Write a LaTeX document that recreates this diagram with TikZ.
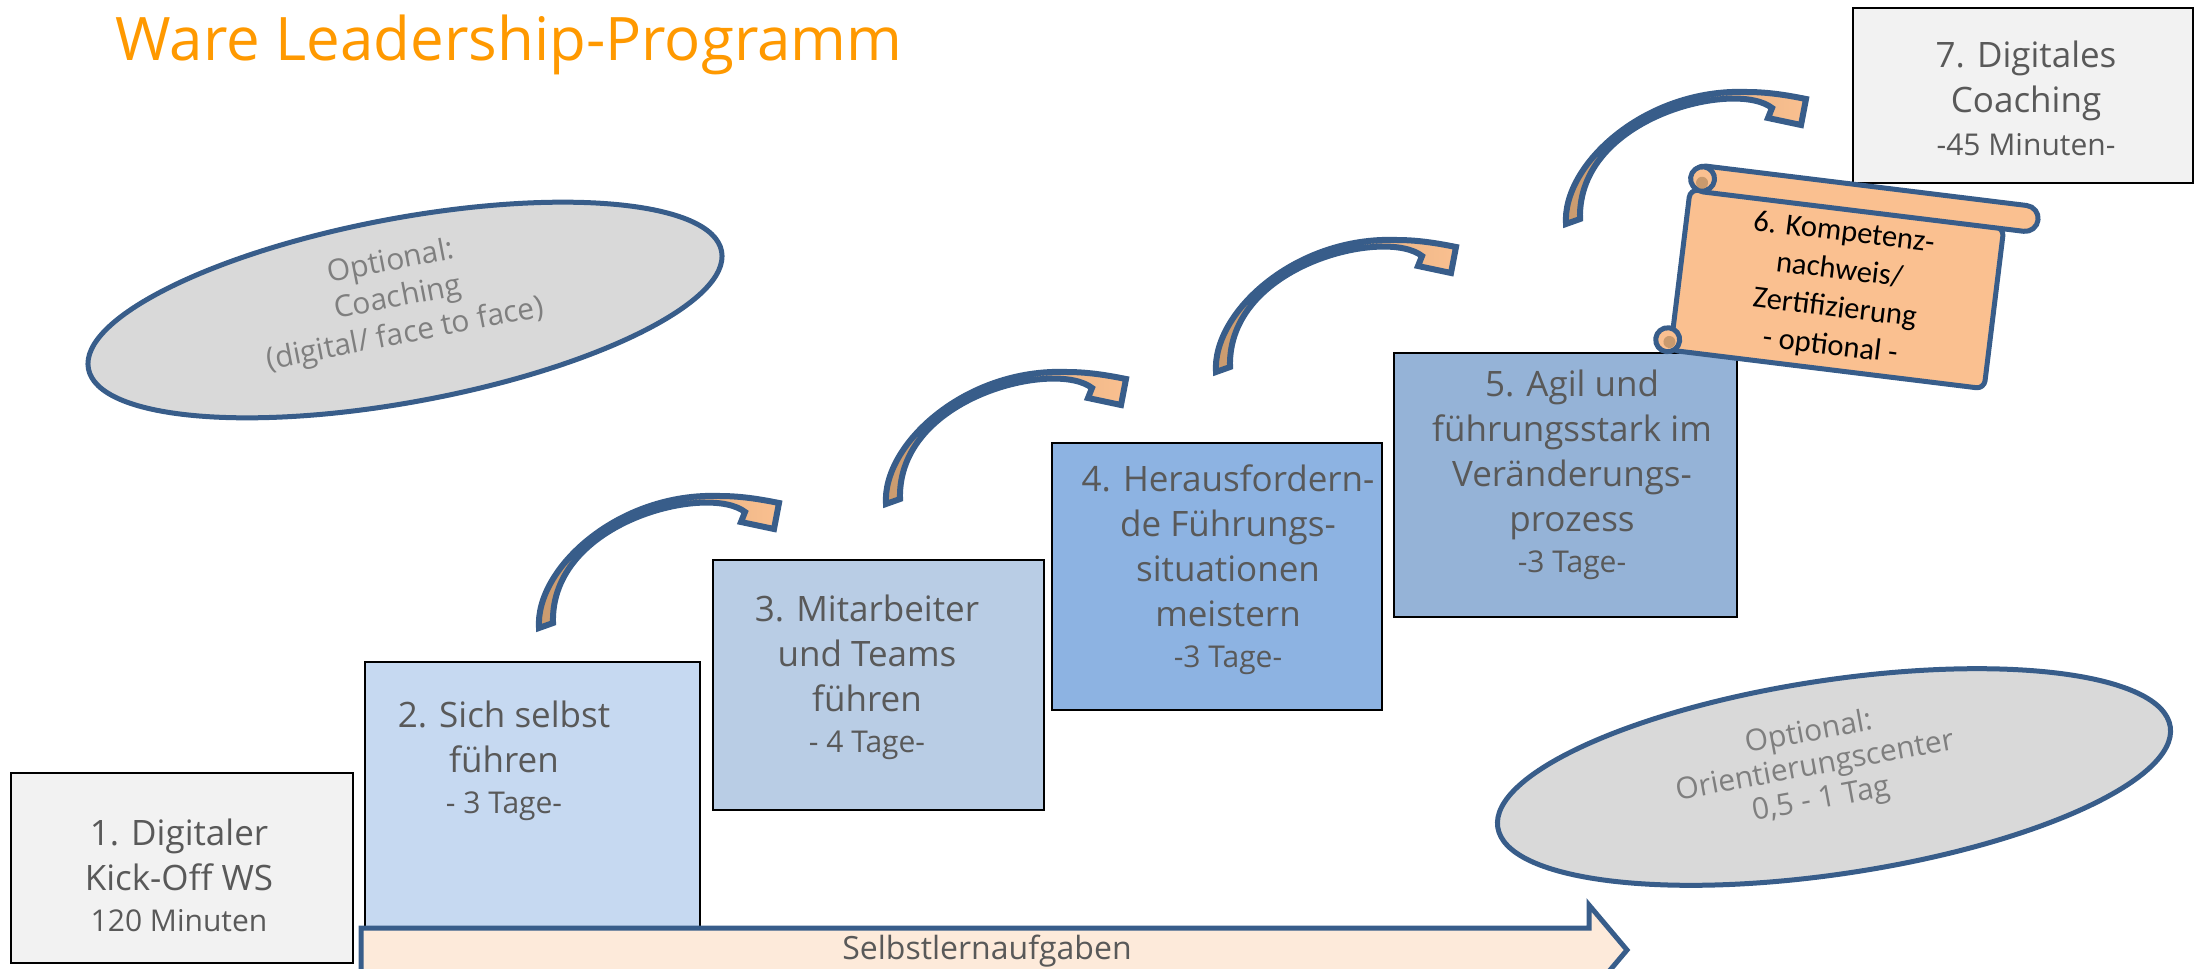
\documentclass[tikz,border=0pt]{standalone}
\usepackage{fontspec}
\setmainfont{Open Sans}
\newfontfamily\calfont{Carlito}
\usetikzlibrary{shapes.geometric}

\definecolor{titelorange}{HTML}{FF9900}
\definecolor{textgrau}{HTML}{595959}
\definecolor{hellgrau}{HTML}{7F7F7F}
\definecolor{kastengrau}{HTML}{F2F2F2}
\definecolor{blaueins}{HTML}{C6D9F1}
\definecolor{blauzwei}{HTML}{B9CDE5}
\definecolor{blaudrei}{HTML}{8DB3E2}
\definecolor{blauvier}{HTML}{95B3D7}
\definecolor{rand}{HTML}{385D8A}
\definecolor{wolkengrau}{HTML}{D9D9D9}
\definecolor{pfirsich}{HTML}{FDEADA}
\definecolor{rolle}{HTML}{FAC090}
\definecolor{braun}{HTML}{C99A6E}

\newcommand{\dauer}{\fontsize{15}{18}\selectfont}

\begin{document}
\begin{tikzpicture}[x=0.5pt,y=-0.5pt,
	kasten/.style={draw=black,line width=1.4pt,rectangle,inner sep=0pt},
	kastentext/.style={text=textgrau,align=center,font=\fontsize{17.5}{22.5}\selectfont},
	wolke/.style={ellipse,draw=rand,fill=wolkengrau,line width=2.5pt},
	wolkentext/.style={text=hellgrau,align=center,font=\fontsize{15}{18.5}\selectfont},
	rollrand/.style={draw=rand,fill=rolle,line width=2.5pt,line join=round},
	pfeil/.style={draw=rand,line width=3pt,left color=braun,right color=rolle,line join=miter},
	bogen/.pic={
		\path[pfeil] (1,-1) .. controls (-3,-60) and (80,-137) .. (182,-133)
			.. controls (205,-133) and (226,-129) .. (241,-126) -- (236,-100) -- (203,-107) -- (207,-117)
			.. controls (170,-146) and (12,-108) .. (15,-6) -- cycle;}]

	\useasboundingbox (0,0) rectangle (2195,969);
	\clip (0,0) rectangle (2195,969);

	\node[anchor=base west,inner sep=0pt,text=titelorange,font=\fontsize{30}{36}\selectfont] (titel) at (115,61) {Ware Leadership-Programm};

	% optionale Angebote
	\node[wolke,rotate=10.5,minimum width=322pt,minimum height=92pt] (coaching) at (405,310) {};
	\node[wolkentext,rotate=11] (coachingtext) at (398,299) {Optional:\\Coaching\\(digital/ face to face)};
	\node[wolke,rotate=8.5,minimum width=340pt,minimum height=97pt] (orient) at (1834,777) {};
	\node[wolkentext,rotate=10.5,font=\fontsize{15}{17}\selectfont] (orienttext) at (1815,767) {Optional:\\Orientierungscenter\\0,5 - 1 Tag};

	% Stufen
	\node[kasten,fill=kastengrau,minimum width=171pt,minimum height=95pt] (k1) at (182,868) {};
	\node[kasten,fill=blaueins,minimum width=167.5pt,minimum height=132.5pt] (k2) at (532.5,794.5) {};
	\node[kasten,fill=blauzwei,minimum width=165.5pt,minimum height=125pt] (k3) at (878.5,685) {};
	\node[kasten,fill=blaudrei,minimum width=165pt,minimum height=133.5pt] (k4) at (1217,576.5) {};
	\node[kasten,fill=blauvier,minimum width=171.5pt,minimum height=132pt] (k5) at (1565.5,485) {};
	\node[kasten,fill=kastengrau,minimum width=170pt,minimum height=87.5pt] (k7) at (2023,95.5) {};

	\node[kastentext] (t1) at (179,875) {1. Digitaler\\Kick-Off WS\\[-2pt]{\dauer 120 Minuten}};
	\node[kastentext] (t2) at (504,761) {2. Sich selbst\\führen\\[-2pt]{\dauer - 3 Tage-}};
	\node[kastentext] (t3) at (867,677) {3. Mitarbeiter\\und Teams\\führen\\[-2pt]{\dauer - 4 Tage-}};
	\node[kastentext] (t4) at (1228,570) {4. Herausfordern-\\de Führungs-\\situationen\\meistern\\[-2pt]{\dauer -3 Tage-}};
	\node[kastentext] (t5) at (1572,475) {5. Agil und\\führungsstark im\\Veränderungs-\\prozess\\[-2pt]{\dauer -3 Tage-}};
	\node[kastentext] (t7) at (2026,98) {7. Digitales\\Coaching\\[-1pt]{\dauer -45 Minuten-}};

	% Selbstlernaufgaben
	\draw[draw=rand,fill=pfirsich,line width=2.5pt,line join=miter] (361,928) -- (1589,928) -- (1589,905) -- (1627,950)
		-- (1589,995) -- (1589,972) -- (361,972) -- cycle;
	\node[text=textgrau,font=\fontsize{16}{19}\selectfont] (selbst) at (987,951) {Selbstlernaufgaben};

	% Bogenpfeile
	\coordinate (b1) at (538,629);
	\coordinate (b2) at (885,505);
	\coordinate (b3) at (1215,373);
	\coordinate (b4) at (1565,225);
	\foreach \b in {b1,b2,b3,b4}
		\pic at (\b) {bogen};

	% Zertifikat
	\begin{scope}[shift={(1837,290)},rotate=-7]
		\draw[rollrand,rounded corners=4pt] (-158,-82) -- (158,-82) -- (158,80) -- (-158,80) -- cycle;
		\draw[rollrand,rounded corners=6.5pt] (-158,-107) rectangle (191,-81);
		\draw[rollrand] (-147,-94) circle[radius=12];
		\fill[braun] (-147,-90) circle[radius=6];
		\draw[rollrand] (-162,70) circle[radius=12];
		\fill[braun] (-160,72) circle[radius=6];
	\end{scope}
	\node[rotate=-7,align=center,font=\calfont\fontsize{15.3}{19}\selectfont] (t6) at (1837,290) {6. Kompetenz-\\nachweis/\\Zertifizierung\\- optional -};

\end{tikzpicture}
\end{document}
